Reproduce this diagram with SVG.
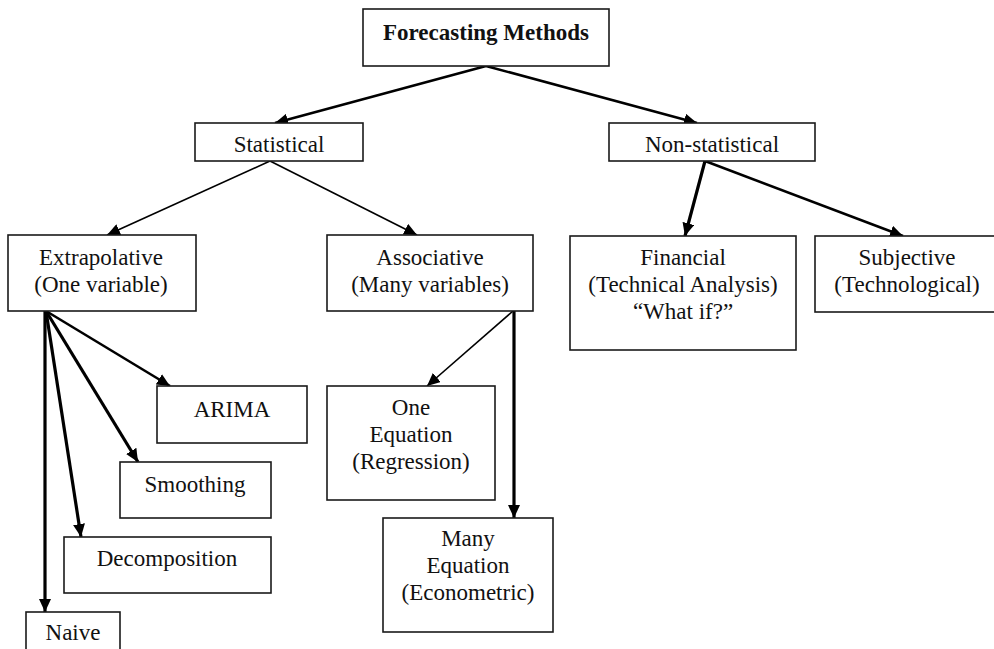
<svg xmlns="http://www.w3.org/2000/svg" width="994" height="649" viewBox="0 0 994 649">
<defs>
<style>
.box{fill:#fff;stroke:#1a1a1a;stroke-width:1.6}
.t{font-family:"Liberation Serif","Times New Roman",serif;font-size:23px;fill:#111;text-anchor:middle}
.b{font-weight:bold}
.c{stroke:#000;fill:none;marker-end:url(#ah)}
.w1{stroke-width:1.6}
.w2{stroke-width:2.6}
.w3{stroke-width:3.2}
</style>
<marker id="ah" markerUnits="userSpaceOnUse" markerWidth="14" markerHeight="12" refX="13" refY="6" orient="auto">
<path d="M0,0 L13,6 L0,12 Z" fill="#000"/>
</marker>
</defs>
<rect width="994" height="649" fill="#fff"/>
<g id="connectors">
<line class="c w2" x1="486" y1="66" x2="275" y2="123"/>
<line class="c w2" x1="486" y1="66" x2="697" y2="123"/>
<line class="c w1" x1="270" y1="161" x2="107" y2="235"/>
<line class="c w1" x1="270" y1="161" x2="417" y2="235"/>
<line class="c w2" x1="46" y1="311" x2="170" y2="386"/>
<line class="c w3" x1="46" y1="311" x2="138" y2="462"/>
<line class="c w3" x1="46" y1="311" x2="81" y2="537"/>
<line class="c w3" x1="45" y1="311" x2="45" y2="612"/>
<line class="c w1" x1="513" y1="311" x2="427" y2="386"/>
<line class="c w3" x1="514" y1="311" x2="514" y2="518"/>
<line class="c w3" x1="705" y1="161" x2="685" y2="236"/>
<line class="c w2" x1="705" y1="161" x2="903" y2="236"/>
</g>
<g id="forecasting">
<rect class="box" x="363" y="9" width="246" height="57"/>
<text class="t b" x="486" y="40">Forecasting Methods</text>
</g>
<g id="statistical">
<rect class="box" x="195" y="123" width="168" height="38"/>
<text class="t" x="279" y="152">Statistical</text>
</g>
<g id="nonstatistical">
<rect class="box" x="609" y="123" width="206" height="38"/>
<text class="t" x="712" y="152">Non-statistical</text>
</g>
<g id="extrapolative">
<rect class="box" x="8" y="235" width="188" height="76"/>
<text class="t" x="101" y="265">Extrapolative</text>
<text class="t" x="101" y="292">(One variable)</text>
</g>
<g id="associative">
<rect class="box" x="327" y="235" width="206" height="76"/>
<text class="t" x="430" y="265">Associative</text>
<text class="t" x="430" y="292">(Many variables)</text>
</g>
<g id="financial">
<rect class="box" x="570" y="236" width="226" height="114"/>
<text class="t" x="683" y="265">Financial</text>
<text class="t" x="683" y="292">(Technical Analysis)</text>
<text class="t" x="683" y="319">“What if?”</text>
</g>
<g id="subjective">
<rect class="box" x="815" y="236" width="185" height="76"/>
<text class="t" x="907" y="265">Subjective</text>
<text class="t" x="907" y="292">(Technological)</text>
</g>
<g id="arima">
<rect class="box" x="157" y="386" width="150" height="57"/>
<text class="t" x="232" y="417">ARIMA</text>
</g>
<g id="smoothing">
<rect class="box" x="120" y="462" width="151" height="56"/>
<text class="t" x="195" y="492">Smoothing</text>
</g>
<g id="decomposition">
<rect class="box" x="64" y="537" width="207" height="56"/>
<text class="t" x="167" y="566">Decomposition</text>
</g>
<g id="naive">
<rect class="box" x="26" y="612" width="94" height="45"/>
<text class="t" x="73" y="640">Naive</text>
</g>
<g id="oneequation">
<rect class="box" x="327" y="386" width="168" height="114"/>
<text class="t" x="411" y="415">One</text>
<text class="t" x="411" y="442">Equation</text>
<text class="t" x="411" y="469">(Regression)</text>
</g>
<g id="manyequation">
<rect class="box" x="383" y="518" width="170" height="114"/>
<text class="t" x="468" y="546">Many</text>
<text class="t" x="468" y="573">Equation</text>
<text class="t" x="468" y="600">(Econometric)</text>
</g>
</svg>
